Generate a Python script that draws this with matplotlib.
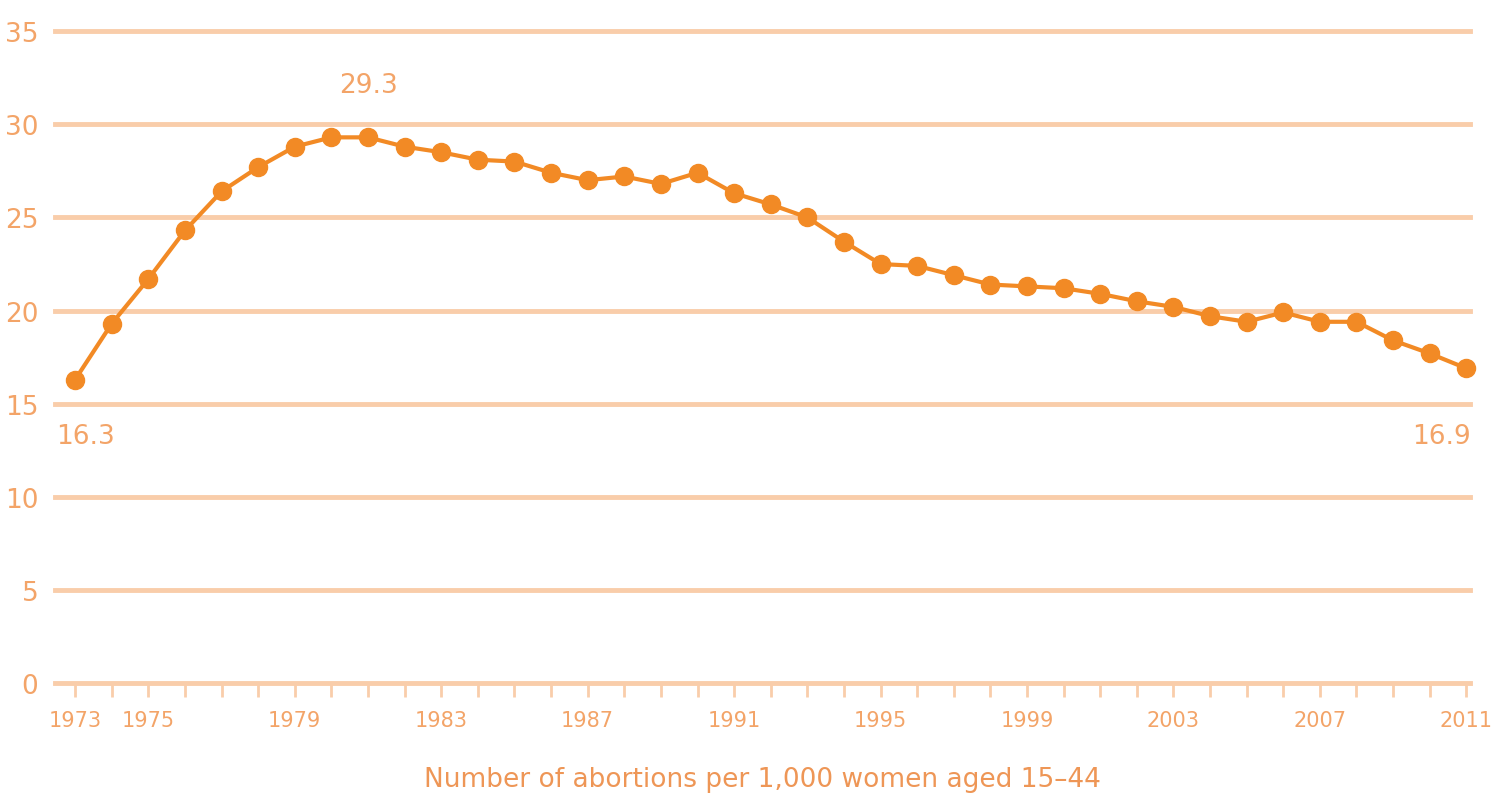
import matplotlib
matplotlib.use("Agg")
import matplotlib.pyplot as plt
from matplotlib import font_manager

years = list(range(1973, 2012))
rates = [16.3, 19.3, 21.7, 24.3, 26.4, 27.7, 28.8, 29.3, 29.3, 28.8,
         28.5, 28.1, 28.0, 27.4, 27.0, 27.2, 26.8, 27.4, 26.3, 25.7,
         25.0, 23.7, 22.5, 22.4, 21.9, 21.4, 21.3, 21.2, 20.9, 20.5,
         20.2, 19.7, 19.4, 19.9, 19.4, 19.4, 18.4, 17.7, 16.9]
year_labels = [1973, 1975, 1979, 1983, 1987, 1991, 1995, 1999, 2003, 2007, 2011]
y_ticks = [0, 5, 10, 15, 20, 25, 30, 35]
xlabel = "Number of abortions per 1,000 women aged 15\u201344"

names = {f.name for f in font_manager.fontManager.ttflist}
fam = [n for n in ["Liberation Sans Narrow", "DejaVu Sans Condensed"] if n in names] + ["DejaVu Sans"]
plt.rcParams['font.family'] = fam

LINE = "#F28A25"
GRID = "#F9CDAA"
TEXT = "#F3A468"

fig = plt.figure(figsize=(14.91, 8.04), dpi=100)
ax = fig.add_axes([0.0369, 0.149, 0.949, 0.811])
ax.set_xlim(1972.45, 2011.1)
ax.set_ylim(0, 35)
for v in y_ticks:
    ax.axhline(v, color=GRID, lw=3.5, zorder=1, clip_on=False)
ax.plot(years, rates, color=LINE, lw=3, marker='o', ms=13, zorder=3, clip_on=False)

for s in ax.spines.values():
    s.set_visible(False)
ax.set_yticks(y_ticks)
ax.set_yticklabels([str(v) for v in y_ticks], color=TEXT, fontsize=19)
ax.tick_params(axis='y', length=0, pad=12)
ax.set_xticks(years)
ax.set_xticklabels([str(y) if y in year_labels else "" for y in years], color=TEXT, fontsize=15)
ax.tick_params(axis='x', length=10, width=2, color=GRID, pad=9, direction='out')
ax.set_xlabel(xlabel, color="#EE9656", fontsize=19, labelpad=26)

ax.annotate(f"{rates[8]}", (years[8], rates[8]), xytext=(0, 38), textcoords='offset points',
            ha='center', va='center', color=TEXT, fontsize=19)
ax.annotate(f"{rates[0]}", (years[0], 15), xytext=(-14, -23), textcoords='offset points',
            ha='left', va='center', color=TEXT, fontsize=19)
ax.annotate(f"{rates[-1]}", (years[-1], 15), xytext=(3, -23), textcoords='offset points',
            ha='right', va='center', color=TEXT, fontsize=19)

fig.savefig("out.png", dpi=100, facecolor="white")
